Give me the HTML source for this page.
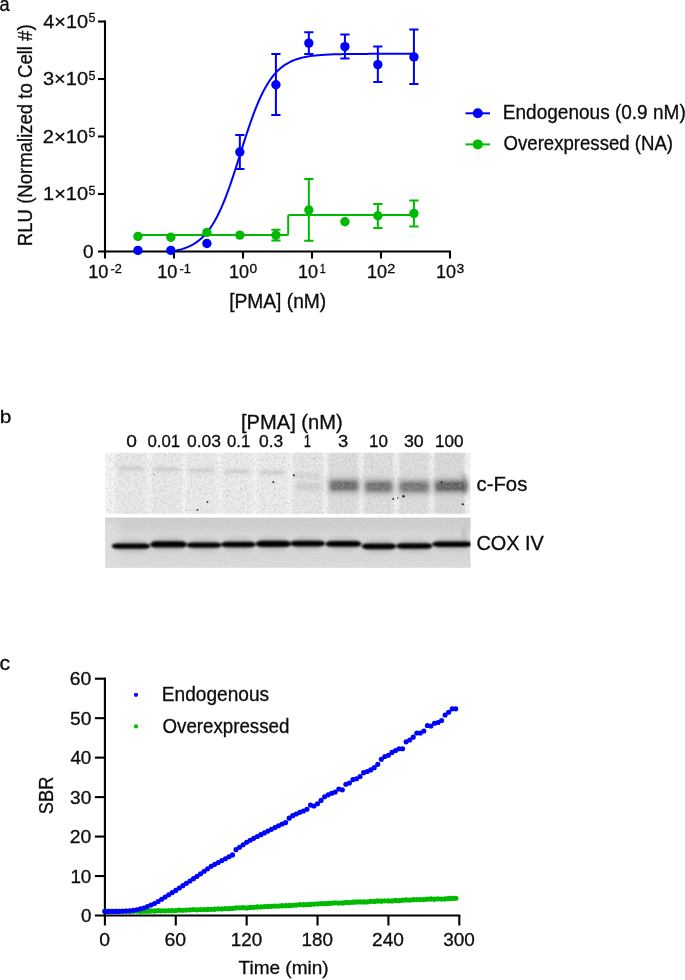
<!DOCTYPE html><html><head><meta charset="utf-8"><title>Figure</title><style>html,body{margin:0;padding:0;background:#fff}svg{display:block}text{font-family:"Liberation Sans",sans-serif;fill:#0c0c0c;stroke:#0c0c0c;stroke-width:0.3px}</style></head><body>
<svg width="685" height="980" viewBox="0 0 685 980">
<defs><filter id="b0" x="-20%" y="-100%" width="140%" height="300%"><feGaussianBlur stdDeviation="1.1 1.0"/></filter><filter id="b1" x="-20%" y="-100%" width="140%" height="300%"><feGaussianBlur stdDeviation="1.6 1.3"/></filter><filter id="b2" x="-20%" y="-100%" width="140%" height="300%"><feGaussianBlur stdDeviation="2.2 2.0"/></filter><filter id="b3" x="-20%" y="-100%" width="140%" height="300%"><feGaussianBlur stdDeviation="3 3"/></filter><filter id="grain" x="0" y="0" width="100%" height="100%"><feTurbulence type="fractalNoise" baseFrequency="0.42" numOctaves="2" seed="7" result="n"/><feColorMatrix in="n" type="matrix" values="0 0 0 0 0.45  0 0 0 0 0.45  0 0 0 0 0.45  0.8 0.8 0 0 -0.72"/></filter><filter id="grain2" x="0" y="0" width="100%" height="100%"><feTurbulence type="fractalNoise" baseFrequency="0.7" numOctaves="1" seed="3" result="n"/><feColorMatrix in="n" type="matrix" values="0 0 0 0 0  0 0 0 0 0  0 0 0 0 0  0.06 0.06 0 0 -0.05"/></filter><clipPath id="c1"><rect x="105.3" y="452.8" width="365" height="61"/></clipPath><clipPath id="c2"><rect x="105.3" y="517.8" width="365.3" height="49.8"/></clipPath></defs>
<rect width="685" height="980" fill="#fff"/>
<text x="-0.38" y="10.70" font-size="19.6" textLength="10.15" lengthAdjust="spacingAndGlyphs">a</text>
<text x="-0.36" y="422.60" font-size="19.2" textLength="11.62" lengthAdjust="spacingAndGlyphs">b</text>
<text x="-0.60" y="670.40" font-size="19.4" textLength="10.64" lengthAdjust="spacingAndGlyphs">c</text>
<text x="43.10" y="200.40" font-size="19.0" textLength="44.94" lengthAdjust="spacingAndGlyphs">1×10</text>
<text x="88.50" y="194.60" font-size="12.3" textLength="6.91" lengthAdjust="spacingAndGlyphs">5</text>
<text x="42.69" y="142.90" font-size="19.0" textLength="45.36" lengthAdjust="spacingAndGlyphs">2×10</text>
<text x="88.50" y="137.10" font-size="12.3" textLength="6.91" lengthAdjust="spacingAndGlyphs">5</text>
<text x="42.95" y="85.40" font-size="19.0" textLength="45.10" lengthAdjust="spacingAndGlyphs">3×10</text>
<text x="88.50" y="79.60" font-size="12.3" textLength="6.91" lengthAdjust="spacingAndGlyphs">5</text>
<text x="43.25" y="27.90" font-size="19.0" textLength="44.79" lengthAdjust="spacingAndGlyphs">4×10</text>
<text x="88.50" y="22.10" font-size="12.3" textLength="6.91" lengthAdjust="spacingAndGlyphs">5</text>
<text x="82.99" y="257.60" font-size="19.0" textLength="10.54" lengthAdjust="spacingAndGlyphs">0</text>
<text x="88.24" y="278.20" font-size="18.8" textLength="20.18" lengthAdjust="spacingAndGlyphs">10</text>
<text x="110.63" y="273.30" font-size="12.3" textLength="11.30" lengthAdjust="spacingAndGlyphs">-2</text>
<text x="157.24" y="278.20" font-size="18.8" textLength="20.18" lengthAdjust="spacingAndGlyphs">10</text>
<text x="179.63" y="273.30" font-size="12.3" textLength="11.30" lengthAdjust="spacingAndGlyphs">-1</text>
<text x="229.00" y="278.20" font-size="18.8" textLength="20.02" lengthAdjust="spacingAndGlyphs">10</text>
<text x="249.48" y="273.30" font-size="12.3" textLength="7.65" lengthAdjust="spacingAndGlyphs">0</text>
<text x="298.00" y="278.20" font-size="18.8" textLength="20.02" lengthAdjust="spacingAndGlyphs">10</text>
<text x="319.80" y="273.30" font-size="12.3" textLength="5.92" lengthAdjust="spacingAndGlyphs">1</text>
<text x="367.00" y="278.20" font-size="18.8" textLength="20.02" lengthAdjust="spacingAndGlyphs">10</text>
<text x="387.28" y="273.30" font-size="12.3" textLength="8.02" lengthAdjust="spacingAndGlyphs">2</text>
<text x="436.00" y="278.20" font-size="18.8" textLength="20.02" lengthAdjust="spacingAndGlyphs">10</text>
<text x="456.48" y="273.30" font-size="12.3" textLength="7.73" lengthAdjust="spacingAndGlyphs">3</text>
<text x="229.16" y="307.60" font-size="19.3" textLength="97.11" lengthAdjust="spacingAndGlyphs">[PMA] (nM)</text>
<text transform="translate(32.40 246.13) rotate(-90)" font-size="20.0" textLength="221.76" lengthAdjust="spacingAndGlyphs">RLU (Normalized to Cell #)</text>
<path d="M137.92 235.1H287.00Q288.20 235.1 288.20 233.5V216.6Q288.20 215 289.80 215H413.92" stroke="#00b900" stroke-width="2" fill="none"/>
<path d="M170.70 251.50 L172.42 251.27 L174.15 250.96 L175.87 250.63 L177.60 250.25 L179.32 249.84 L181.05 249.38 L182.77 248.86 L184.50 248.29 L186.22 247.66 L187.95 246.96 L189.67 246.19 L191.40 245.33 L193.12 244.39 L194.85 243.34 L196.57 242.19 L198.30 240.92 L200.02 239.52 L201.75 237.99 L203.47 236.31 L205.20 234.46 L206.92 232.45 L208.65 230.26 L210.37 227.88 L212.10 225.29 L213.82 222.50 L215.55 219.48 L217.27 216.25 L219.00 212.78 L220.72 209.08 L222.45 205.16 L224.17 201.00 L225.90 196.63 L227.62 192.04 L229.35 187.26 L231.07 182.31 L232.80 177.19 L234.52 171.94 L236.25 166.59 L237.97 161.17 L239.70 155.70 L241.42 150.21 L243.15 144.76 L244.87 139.35 L246.60 134.03 L248.32 128.83 L250.05 123.76 L251.77 118.86 L253.50 114.14 L255.22 109.63 L256.95 105.32 L258.67 101.24 L260.40 97.39 L262.12 93.77 L263.85 90.38 L265.57 87.22 L267.30 84.28 L269.02 81.56 L270.75 79.04 L272.47 76.72 L274.20 74.59 L275.92 72.64 L277.65 70.85 L279.37 69.22 L281.10 67.73 L282.82 66.38 L284.55 65.15 L286.27 64.03 L288.00 63.02 L289.72 62.10 L291.45 61.27 L293.17 60.53 L294.90 59.85 L296.62 59.24 L298.35 58.69 L300.07 58.20 L301.80 57.75 L303.52 57.35 L305.25 56.99 L306.97 56.66 L308.70 56.37 L310.42 56.11 L312.15 55.87 L313.87 55.66 L315.60 55.47 L317.32 55.30 L319.05 55.15 L320.77 55.01 L322.50 54.89 L324.22 54.78 L325.95 54.68 L327.67 54.59 L329.40 54.51 L331.12 54.44 L332.85 54.37 L334.57 54.31 L336.30 54.26 L338.02 54.22 L339.75 54.17 L341.47 54.14 L343.20 54.10 L344.92 54.07 L346.65 54.05 L348.37 54.02 L350.10 54.00 L351.82 53.98 L353.55 53.96 L355.27 53.95 L357.00 53.94 L358.72 53.92 L360.45 53.91 L362.17 53.90 L363.90 53.89 L365.62 53.88 L367.35 53.88 L369.07 53.87 L370.80 53.87 L372.52 53.86 L374.25 53.86 L375.97 53.85 L377.70 53.85 L379.42 53.84 L381.15 53.84 L382.87 53.84 L384.60 53.84 L386.32 53.83 L388.05 53.83 L389.77 53.83 L391.50 53.83 L393.22 53.83 L394.95 53.83 L396.67 53.82 L398.40 53.82 L400.12 53.82 L401.85 53.82 L403.57 53.82 L405.30 53.82 L407.02 53.82 L408.75 53.82 L410.47 53.82 L412.20 53.82 L413.92 53.82" stroke="#0000ff" stroke-width="2" fill="none" stroke-linejoin="round"/>
<g stroke="#000" stroke-width="2.1" fill="none" stroke-linecap="butt">
<path d="M105.0 20.45V252.55"/>
<path d="M98.0 251.5H451.05"/>
<path d="M98.0 194.00H105.0"/>
<path d="M98.0 136.50H105.0"/>
<path d="M98.0 79.00H105.0"/>
<path d="M98.0 21.50H105.0"/>
<path d="M105.00 251.5V258.5"/>
<path d="M174.00 251.5V258.5"/>
<path d="M243.00 251.5V258.5"/>
<path d="M312.00 251.5V258.5"/>
<path d="M381.00 251.5V258.5"/>
<path d="M450.00 251.5V258.5"/>
</g>
<circle cx="137.92" cy="236.4" r="4.7" fill="#00b900"/>
<circle cx="170.84" cy="237.3" r="4.7" fill="#00b900"/>
<circle cx="206.92" cy="232.4" r="4.7" fill="#00b900"/>
<circle cx="239.84" cy="235.1" r="4.7" fill="#00b900"/>
<path d="M275.92 229.80V240.40M271.32 229.80H280.52M271.32 240.40H280.52" stroke="#00b900" stroke-width="2" fill="none"/>
<circle cx="275.92" cy="235.1" r="4.7" fill="#00b900"/>
<path d="M308.84 178.90V240.80M304.24 178.90H313.44M304.24 240.80H313.44" stroke="#00b900" stroke-width="2" fill="none"/>
<circle cx="308.84" cy="210.0" r="4.7" fill="#00b900"/>
<circle cx="344.92" cy="221.8" r="4.7" fill="#00b900"/>
<path d="M377.84 204.00V227.90M373.24 204.00H382.44M373.24 227.90H382.44" stroke="#00b900" stroke-width="2" fill="none"/>
<circle cx="377.84" cy="215.7" r="4.7" fill="#00b900"/>
<path d="M413.92 200.60V226.40M409.32 200.60H418.52M409.32 226.40H418.52" stroke="#00b900" stroke-width="2" fill="none"/>
<circle cx="413.92" cy="213.5" r="4.7" fill="#00b900"/>
<circle cx="137.92" cy="250.4" r="4.7" fill="#0000ff"/>
<circle cx="170.84" cy="250.4" r="4.7" fill="#0000ff"/>
<circle cx="206.92" cy="243.5" r="4.7" fill="#0000ff"/>
<path d="M239.84 134.90V169.00M235.24 134.90H244.44M235.24 169.00H244.44" stroke="#0000ff" stroke-width="2" fill="none"/>
<circle cx="239.84" cy="152.0" r="4.7" fill="#0000ff"/>
<path d="M275.92 54.00V115.00M271.32 54.00H280.52M271.32 115.00H280.52" stroke="#0000ff" stroke-width="2" fill="none"/>
<circle cx="275.92" cy="84.8" r="4.7" fill="#0000ff"/>
<path d="M308.84 32.20V54.00M304.24 32.20H313.44M304.24 54.00H313.44" stroke="#0000ff" stroke-width="2" fill="none"/>
<circle cx="308.84" cy="43.1" r="4.7" fill="#0000ff"/>
<path d="M344.92 34.40V58.50M340.32 34.40H349.52M340.32 58.50H349.52" stroke="#0000ff" stroke-width="2" fill="none"/>
<circle cx="344.92" cy="46.6" r="4.7" fill="#0000ff"/>
<path d="M377.84 46.60V81.90M373.24 46.60H382.44M373.24 81.90H382.44" stroke="#0000ff" stroke-width="2" fill="none"/>
<circle cx="377.84" cy="64.6" r="4.7" fill="#0000ff"/>
<path d="M413.92 29.60V83.90M409.32 29.60H418.52M409.32 83.90H418.52" stroke="#0000ff" stroke-width="2" fill="none"/>
<circle cx="413.92" cy="56.9" r="4.7" fill="#0000ff"/>
<path d="M465.5 113.3H490" stroke="#0000ff" stroke-width="2"/>
<circle cx="477.8" cy="113.3" r="5.0" fill="#0000ff"/>
<text x="502.83" y="118.50" font-size="20.2" textLength="182.91" lengthAdjust="spacingAndGlyphs">Endogenous (0.9 nM)</text>
<path d="M465.5 144.4H490" stroke="#00b900" stroke-width="2"/>
<circle cx="477.8" cy="144.4" r="5.0" fill="#00b900"/>
<text x="503.52" y="149.60" font-size="20.2" textLength="169.53" lengthAdjust="spacingAndGlyphs">Overexpressed (NA)</text>
<text x="240.99" y="429.00" font-size="19.7" textLength="101.73" lengthAdjust="spacingAndGlyphs">[PMA] (nM)</text>
<text x="126.38" y="447.40" font-size="16.3" textLength="10.66" lengthAdjust="spacingAndGlyphs">0</text>
<text x="147.47" y="447.40" font-size="16.3" textLength="32.65" lengthAdjust="spacingAndGlyphs">0.01</text>
<text x="187.05" y="447.40" font-size="16.3" textLength="33.92" lengthAdjust="spacingAndGlyphs">0.03</text>
<text x="227.08" y="447.40" font-size="16.3" textLength="23.12" lengthAdjust="spacingAndGlyphs">0.1</text>
<text x="259.05" y="447.40" font-size="16.3" textLength="24.20" lengthAdjust="spacingAndGlyphs">0.3</text>
<text x="303.73" y="447.40" font-size="16.3" textLength="7.20" lengthAdjust="spacingAndGlyphs">1</text>
<text x="337.91" y="447.40" font-size="16.3" textLength="10.19" lengthAdjust="spacingAndGlyphs">3</text>
<text x="369.03" y="447.40" font-size="16.3" textLength="18.85" lengthAdjust="spacingAndGlyphs">10</text>
<text x="403.93" y="447.40" font-size="16.3" textLength="19.77" lengthAdjust="spacingAndGlyphs">30</text>
<text x="435.02" y="447.40" font-size="16.3" textLength="28.43" lengthAdjust="spacingAndGlyphs">100</text>
<text x="476.54" y="491.30" font-size="20.2" textLength="50.77" lengthAdjust="spacingAndGlyphs">c-Fos</text>
<text x="476.40" y="549.70" font-size="20.2" textLength="67.49" lengthAdjust="spacingAndGlyphs">COX IV</text>
<g clip-path="url(#c1)">
<rect x="105.3" y="452" width="365.0" height="63" fill="#f5f5f5"/>
<rect x="116.0" y="444" width="30.5" height="78" fill="#eaeaea" filter="url(#b1)"/>
<rect x="151.3" y="444" width="30.5" height="78" fill="#eaeaea" filter="url(#b1)"/>
<rect x="186.7" y="444" width="30.5" height="78" fill="#ebebeb" filter="url(#b1)"/>
<rect x="222.1" y="444" width="30.5" height="78" fill="#ececec" filter="url(#b1)"/>
<rect x="257.4" y="444" width="30.5" height="78" fill="#ececec" filter="url(#b1)"/>
<rect x="292.8" y="444" width="30.5" height="78" fill="#e6e6e6" filter="url(#b1)"/>
<rect x="328.1" y="444" width="30.5" height="78" fill="#dedede" filter="url(#b1)"/>
<rect x="363.5" y="444" width="30.5" height="78" fill="#dfdfdf" filter="url(#b1)"/>
<rect x="398.8" y="444" width="30.5" height="78" fill="#dedede" filter="url(#b1)"/>
<rect x="434.2" y="444" width="30.5" height="78" fill="#dadada" filter="url(#b1)"/>
<rect x="118.0" y="465.9" width="26" height="5" fill="#cccccc" opacity="0.5" filter="url(#b2)"/>
<rect x="119.5" y="467.3" width="23" height="2.2" fill="#b4b4b4" opacity="0.45" filter="url(#b1)"/>
<rect x="153.3" y="466.7" width="26" height="5" fill="#cccccc" opacity="0.5" filter="url(#b2)"/>
<rect x="154.8" y="468.1" width="23" height="2.2" fill="#b4b4b4" opacity="0.45" filter="url(#b1)"/>
<rect x="188.7" y="467.7" width="26" height="5" fill="#cccccc" opacity="0.5" filter="url(#b2)"/>
<rect x="190.2" y="469.1" width="23" height="2.2" fill="#b4b4b4" opacity="0.45" filter="url(#b1)"/>
<rect x="224.1" y="469.1" width="26" height="5" fill="#cccccc" opacity="0.5" filter="url(#b2)"/>
<rect x="225.6" y="470.5" width="23" height="2.2" fill="#b4b4b4" opacity="0.45" filter="url(#b1)"/>
<rect x="259.4" y="470.1" width="26" height="5" fill="#cccccc" opacity="0.5" filter="url(#b2)"/>
<rect x="260.9" y="471.5" width="23" height="2.2" fill="#b4b4b4" opacity="0.45" filter="url(#b1)"/>
<rect x="295.8" y="473.8" width="25" height="3.6" fill="#c0c0c0" opacity="0.6" filter="url(#b2)"/>
<rect x="295.8" y="483" width="26" height="7" fill="#c6c6c6" opacity="0.7" filter="url(#b2)"/>
<rect x="328.4" y="477.6" width="31.100000000000023" height="16" fill="#b8b8b8" filter="url(#b3)"/>
<rect x="330.4" y="481.0" width="27.100000000000023" height="9.2" fill="#5c5c5c" filter="url(#b2)"/>
<rect x="332.4" y="485.0" width="23.100000000000023" height="1.6" fill="#a0a0a0" opacity="0.55" filter="url(#b1)"/>
<rect x="363.9" y="478.6" width="29.700000000000045" height="16" fill="#b8b8b8" filter="url(#b3)"/>
<rect x="365.9" y="482.0" width="25.700000000000045" height="9.2" fill="#646464" filter="url(#b2)"/>
<rect x="367.9" y="486.0" width="21.700000000000045" height="1.6" fill="#a0a0a0" opacity="0.55" filter="url(#b1)"/>
<rect x="398.3" y="478.8" width="31.899999999999977" height="16" fill="#b8b8b8" filter="url(#b3)"/>
<rect x="400.3" y="482.2" width="27.899999999999977" height="9.2" fill="#686868" filter="url(#b2)"/>
<rect x="402.3" y="486.2" width="23.899999999999977" height="1.6" fill="#a0a0a0" opacity="0.55" filter="url(#b1)"/>
<rect x="433.8" y="478.2" width="34.69999999999999" height="16" fill="#b8b8b8" filter="url(#b3)"/>
<rect x="435.8" y="481.59999999999997" width="30.69999999999999" height="9.2" fill="#4c4c4c" filter="url(#b2)"/>
<rect x="437.8" y="485.59999999999997" width="26.69999999999999" height="1.6" fill="#a0a0a0" opacity="0.55" filter="url(#b1)"/>
<rect x="462" y="474" width="3.5" height="20" fill="#555" opacity="0.45" filter="url(#b2)"/>
<rect x="105.3" y="452" width="365.0" height="63" filter="url(#grain)"/>
<circle cx="349.5" cy="460.5" r="0.6" fill="#777"/>
<circle cx="393.2" cy="499" r="0.9" fill="#222"/>
<circle cx="397.7" cy="498" r="0.8" fill="#333"/>
<circle cx="403.5" cy="496.3" r="1.2" fill="#1a1a1a"/>
<circle cx="462.8" cy="504.3" r="1.1" fill="#1a1a1a"/>
<circle cx="441.7" cy="482.1" r="1.0" fill="#2a2a2a"/>
<circle cx="197.5" cy="510" r="0.9" fill="#333"/>
<circle cx="207.5" cy="502" r="0.9" fill="#333"/>
<circle cx="273.3" cy="482" r="1.0" fill="#2a2a2a"/>
<circle cx="154" cy="474.8" r="0.6" fill="#555"/>
<circle cx="241.5" cy="489" r="0.6" fill="#888"/>
<circle cx="293.9" cy="475.2" r="1.0" fill="#1a1a1a"/>
<circle cx="314.2" cy="458.6" r="0.7" fill="#777"/>
<circle cx="260" cy="494" r="0.5" fill="#999"/>
</g>
<g clip-path="url(#c2)">
<rect x="105.3" y="517" width="365.0" height="52" fill="#d8d8d8"/>
<rect x="95" y="508" width="385" height="22" fill="#cfcfcf" filter="url(#b3)"/>
<rect x="95" y="560" width="385" height="14" fill="#dcdcdc" filter="url(#b3)"/>
<rect x="60" y="520" width="60" height="50" fill="#dedede" filter="url(#b3)"/>
<rect x="113.5" y="540.3" width="35.1" height="11.6" rx="9" ry="5.8" fill="#8a8a8a" opacity="0.38" filter="url(#b2)"/>
<rect x="152.0" y="538.0" width="33.2" height="12.8" rx="9" ry="6.4" fill="#8a8a8a" opacity="0.38" filter="url(#b2)"/>
<rect x="188.2" y="539.3" width="31.7" height="11.6" rx="9" ry="5.8" fill="#8a8a8a" opacity="0.38" filter="url(#b2)"/>
<rect x="222.8" y="538.5" width="31.2" height="12.0" rx="9" ry="6.0" fill="#8a8a8a" opacity="0.38" filter="url(#b2)"/>
<rect x="257.4" y="537.6" width="31.9" height="12.6" rx="9" ry="6.3" fill="#8a8a8a" opacity="0.38" filter="url(#b2)"/>
<rect x="291.8" y="537.6" width="31.6" height="12.0" rx="9" ry="6.0" fill="#8a8a8a" opacity="0.38" filter="url(#b2)"/>
<rect x="327.2" y="537.9" width="32.5" height="12.0" rx="9" ry="6.0" fill="#8a8a8a" opacity="0.38" filter="url(#b2)"/>
<rect x="363.4" y="540.2" width="31.2" height="12.2" rx="9" ry="6.1" fill="#8a8a8a" opacity="0.38" filter="url(#b2)"/>
<rect x="398.0" y="540.1" width="32.7" height="11.8" rx="9" ry="5.9" fill="#8a8a8a" opacity="0.38" filter="url(#b2)"/>
<rect x="434.0" y="538.3" width="36.5" height="11.8" rx="9" ry="5.9" fill="#8a8a8a" opacity="0.38" filter="url(#b2)"/>
<rect x="462.5" y="528" width="3.5" height="16" fill="#b0b0b0" opacity="0.7" filter="url(#b2)"/>
<rect x="111.7" y="543.5" width="38.7" height="5.2" rx="6" ry="2.6" fill="#060606" filter="url(#b0)"/>
<rect x="150.2" y="541.2" width="36.8" height="6.4" rx="6" ry="3.2" fill="#060606" filter="url(#b0)"/>
<rect x="186.4" y="542.5" width="35.3" height="5.2" rx="6" ry="2.6" fill="#060606" filter="url(#b0)"/>
<rect x="221.0" y="541.7" width="34.8" height="5.6" rx="6" ry="2.8" fill="#060606" filter="url(#b0)"/>
<rect x="255.6" y="540.8" width="35.5" height="6.2" rx="6" ry="3.1" fill="#060606" filter="url(#b0)"/>
<rect x="290.0" y="540.8" width="35.2" height="5.6" rx="6" ry="2.8" fill="#060606" filter="url(#b0)"/>
<rect x="325.4" y="541.1" width="36.1" height="5.6" rx="6" ry="2.8" fill="#060606" filter="url(#b0)"/>
<rect x="361.6" y="543.4" width="34.8" height="5.8" rx="6" ry="2.9" fill="#060606" filter="url(#b0)"/>
<rect x="396.2" y="543.3" width="36.3" height="5.4" rx="6" ry="2.7" fill="#060606" filter="url(#b0)"/>
<rect x="432.2" y="541.5" width="40.1" height="5.4" rx="6" ry="2.7" fill="#060606" filter="url(#b0)"/>
<rect x="105.3" y="517" width="365.0" height="52" filter="url(#grain2)"/>
</g>
<g stroke="#000" stroke-width="2.1" fill="none">
<path d="M104.9 677.65V916.55"/>
<path d="M94.9 915.5H460.34"/>
<path d="M94.9 876.03H104.9"/>
<path d="M94.9 836.57H104.9"/>
<path d="M94.9 797.10H104.9"/>
<path d="M94.9 757.63H104.9"/>
<path d="M94.9 718.16H104.9"/>
<path d="M94.9 678.70H104.9"/>
<path d="M104.90 915.5V925.5"/>
<path d="M175.78 915.5V925.5"/>
<path d="M246.66 915.5V925.5"/>
<path d="M317.53 915.5V925.5"/>
<path d="M388.41 915.5V925.5"/>
<path d="M459.29 915.5V925.5"/>
</g>
<text x="80.90" y="922.00" font-size="19.0" textLength="10.43" lengthAdjust="spacingAndGlyphs">0</text>
<text x="70.39" y="882.53" font-size="19.0" textLength="20.96" lengthAdjust="spacingAndGlyphs">10</text>
<text x="69.83" y="843.07" font-size="19.0" textLength="21.54" lengthAdjust="spacingAndGlyphs">20</text>
<text x="70.08" y="803.60" font-size="19.0" textLength="21.28" lengthAdjust="spacingAndGlyphs">30</text>
<text x="70.38" y="764.13" font-size="19.0" textLength="20.98" lengthAdjust="spacingAndGlyphs">40</text>
<text x="70.03" y="724.66" font-size="19.0" textLength="21.33" lengthAdjust="spacingAndGlyphs">50</text>
<text x="69.83" y="685.20" font-size="19.0" textLength="21.54" lengthAdjust="spacingAndGlyphs">60</text>
<text x="99.22" y="945.80" font-size="19.0" textLength="10.78" lengthAdjust="spacingAndGlyphs">0</text>
<text x="164.55" y="945.80" font-size="19.0" textLength="21.65" lengthAdjust="spacingAndGlyphs">60</text>
<text x="230.74" y="945.80" font-size="19.0" textLength="31.44" lengthAdjust="spacingAndGlyphs">120</text>
<text x="301.62" y="945.80" font-size="19.0" textLength="31.44" lengthAdjust="spacingAndGlyphs">180</text>
<text x="372.06" y="945.80" font-size="19.0" textLength="31.89" lengthAdjust="spacingAndGlyphs">240</text>
<text x="443.18" y="945.80" font-size="19.0" textLength="31.64" lengthAdjust="spacingAndGlyphs">300</text>
<text x="238.57" y="973.80" font-size="19.2" textLength="90.07" lengthAdjust="spacingAndGlyphs">Time (min)</text>
<text transform="translate(53.40 814.22) rotate(-90)" font-size="19.6" textLength="37.57" lengthAdjust="spacingAndGlyphs">SBR</text>
<circle cx="136" cy="694.8" r="2.1" fill="#0000ff"/><circle cx="136" cy="726.4" r="2.1" fill="#00b900"/>
<text x="161.83" y="701.30" font-size="19.6" textLength="107.22" lengthAdjust="spacingAndGlyphs">Endogenous</text>
<text x="162.51" y="732.80" font-size="19.6" textLength="126.87" lengthAdjust="spacingAndGlyphs">Overexpressed</text>
<g fill="#00b900"><circle cx="104.90" cy="911.30" r="2.65"/><circle cx="108.44" cy="911.44" r="2.65"/><circle cx="111.99" cy="911.33" r="2.65"/><circle cx="115.53" cy="911.43" r="2.65"/><circle cx="119.08" cy="911.42" r="2.65"/><circle cx="122.62" cy="911.12" r="2.65"/><circle cx="126.16" cy="911.07" r="2.65"/><circle cx="129.71" cy="911.47" r="2.65"/><circle cx="133.25" cy="911.16" r="2.65"/><circle cx="136.80" cy="911.12" r="2.65"/><circle cx="140.34" cy="911.49" r="2.65"/><circle cx="143.88" cy="911.14" r="2.65"/><circle cx="147.43" cy="911.25" r="2.65"/><circle cx="150.97" cy="910.99" r="2.65"/><circle cx="154.51" cy="910.99" r="2.65"/><circle cx="158.06" cy="910.67" r="2.65"/><circle cx="161.60" cy="910.83" r="2.65"/><circle cx="165.15" cy="910.87" r="2.65"/><circle cx="168.69" cy="910.62" r="2.65"/><circle cx="172.23" cy="910.65" r="2.65"/><circle cx="175.78" cy="910.53" r="2.65"/><circle cx="179.32" cy="910.10" r="2.65"/><circle cx="182.87" cy="910.32" r="2.65"/><circle cx="186.41" cy="910.11" r="2.65"/><circle cx="189.95" cy="909.84" r="2.65"/><circle cx="193.50" cy="909.58" r="2.65"/><circle cx="197.04" cy="909.87" r="2.65"/><circle cx="200.59" cy="909.55" r="2.65"/><circle cx="204.13" cy="909.55" r="2.65"/><circle cx="207.67" cy="909.50" r="2.65"/><circle cx="211.22" cy="909.29" r="2.65"/><circle cx="214.76" cy="909.25" r="2.65"/><circle cx="218.30" cy="908.83" r="2.65"/><circle cx="221.85" cy="908.89" r="2.65"/><circle cx="225.39" cy="908.56" r="2.65"/><circle cx="228.94" cy="908.65" r="2.65"/><circle cx="232.48" cy="908.47" r="2.65"/><circle cx="236.02" cy="907.93" r="2.65"/><circle cx="239.57" cy="907.80" r="2.65"/><circle cx="243.11" cy="907.69" r="2.65"/><circle cx="246.66" cy="907.92" r="2.65"/><circle cx="250.20" cy="907.45" r="2.65"/><circle cx="253.74" cy="907.34" r="2.65"/><circle cx="257.29" cy="906.98" r="2.65"/><circle cx="260.83" cy="906.88" r="2.65"/><circle cx="264.38" cy="906.61" r="2.65"/><circle cx="267.92" cy="906.39" r="2.65"/><circle cx="271.46" cy="906.31" r="2.65"/><circle cx="275.01" cy="906.10" r="2.65"/><circle cx="278.55" cy="906.06" r="2.65"/><circle cx="282.10" cy="905.76" r="2.65"/><circle cx="285.64" cy="905.70" r="2.65"/><circle cx="289.18" cy="905.49" r="2.65"/><circle cx="292.73" cy="905.37" r="2.65"/><circle cx="296.27" cy="905.03" r="2.65"/><circle cx="299.81" cy="904.60" r="2.65"/><circle cx="303.36" cy="904.76" r="2.65"/><circle cx="306.90" cy="904.63" r="2.65"/><circle cx="310.45" cy="904.42" r="2.65"/><circle cx="313.99" cy="904.07" r="2.65"/><circle cx="317.53" cy="903.96" r="2.65"/><circle cx="321.08" cy="903.56" r="2.65"/><circle cx="324.62" cy="903.72" r="2.65"/><circle cx="328.17" cy="903.43" r="2.65"/><circle cx="331.71" cy="903.13" r="2.65"/><circle cx="335.25" cy="902.87" r="2.65"/><circle cx="338.80" cy="903.11" r="2.65"/><circle cx="342.34" cy="903.02" r="2.65"/><circle cx="345.89" cy="902.42" r="2.65"/><circle cx="349.43" cy="902.62" r="2.65"/><circle cx="352.97" cy="902.27" r="2.65"/><circle cx="356.52" cy="901.99" r="2.65"/><circle cx="360.06" cy="901.91" r="2.65"/><circle cx="363.60" cy="901.99" r="2.65"/><circle cx="367.15" cy="901.89" r="2.65"/><circle cx="370.69" cy="901.32" r="2.65"/><circle cx="374.24" cy="901.45" r="2.65"/><circle cx="377.78" cy="901.01" r="2.65"/><circle cx="381.32" cy="901.20" r="2.65"/><circle cx="384.87" cy="900.85" r="2.65"/><circle cx="388.41" cy="900.97" r="2.65"/><circle cx="391.96" cy="900.89" r="2.65"/><circle cx="395.50" cy="900.52" r="2.65"/><circle cx="399.04" cy="900.64" r="2.65"/><circle cx="402.59" cy="900.16" r="2.65"/><circle cx="406.13" cy="899.91" r="2.65"/><circle cx="409.68" cy="900.04" r="2.65"/><circle cx="413.22" cy="899.63" r="2.65"/><circle cx="416.76" cy="899.58" r="2.65"/><circle cx="420.31" cy="899.55" r="2.65"/><circle cx="423.85" cy="899.53" r="2.65"/><circle cx="427.39" cy="899.17" r="2.65"/><circle cx="430.94" cy="898.98" r="2.65"/><circle cx="434.48" cy="899.26" r="2.65"/><circle cx="438.03" cy="898.85" r="2.65"/><circle cx="441.57" cy="899.05" r="2.65"/><circle cx="445.11" cy="898.88" r="2.65"/><circle cx="448.66" cy="898.49" r="2.65"/><circle cx="452.20" cy="898.40" r="2.65"/><circle cx="455.75" cy="898.30" r="2.65"/></g>
<g fill="#0000ff"><circle cx="104.90" cy="911.40" r="2.55"/><circle cx="108.44" cy="911.40" r="2.55"/><circle cx="111.99" cy="911.40" r="2.55"/><circle cx="115.53" cy="911.40" r="2.55"/><circle cx="119.08" cy="911.33" r="2.55"/><circle cx="122.62" cy="911.22" r="2.55"/><circle cx="126.16" cy="911.11" r="2.55"/><circle cx="129.71" cy="910.79" r="2.55"/><circle cx="133.25" cy="910.35" r="2.55"/><circle cx="136.80" cy="909.75" r="2.55"/><circle cx="140.34" cy="908.85" r="2.55"/><circle cx="143.88" cy="907.95" r="2.55"/><circle cx="147.43" cy="906.53" r="2.55"/><circle cx="150.97" cy="904.99" r="2.55"/><circle cx="154.51" cy="903.46" r="2.55"/><circle cx="158.06" cy="901.46" r="2.55"/><circle cx="161.60" cy="899.22" r="2.55"/><circle cx="165.15" cy="896.99" r="2.55"/><circle cx="168.69" cy="894.79" r="2.55"/><circle cx="172.23" cy="892.60" r="2.55"/><circle cx="175.78" cy="890.40" r="2.55"/><circle cx="179.32" cy="888.03" r="2.55"/><circle cx="182.87" cy="885.66" r="2.55"/><circle cx="186.41" cy="883.33" r="2.55"/><circle cx="189.95" cy="881.00" r="2.55"/><circle cx="193.50" cy="878.67" r="2.55"/><circle cx="197.04" cy="876.34" r="2.55"/><circle cx="200.59" cy="873.83" r="2.55"/><circle cx="204.13" cy="871.31" r="2.55"/><circle cx="207.67" cy="868.78" r="2.55"/><circle cx="211.22" cy="866.25" r="2.55"/><circle cx="214.76" cy="864.36" r="2.55"/><circle cx="218.30" cy="862.47" r="2.55"/><circle cx="221.85" cy="860.58" r="2.55"/><circle cx="225.39" cy="858.69" r="2.55"/><circle cx="228.94" cy="856.80" r="2.55"/><circle cx="232.48" cy="854.91" r="2.55"/><circle cx="236.02" cy="849.67" r="2.55"/><circle cx="239.57" cy="847.18" r="2.55"/><circle cx="243.11" cy="844.68" r="2.55"/><circle cx="246.66" cy="842.19" r="2.55"/><circle cx="250.20" cy="840.23" r="2.55"/><circle cx="253.74" cy="838.38" r="2.55"/><circle cx="257.29" cy="836.52" r="2.55"/><circle cx="260.83" cy="834.67" r="2.55"/><circle cx="264.38" cy="832.90" r="2.55"/><circle cx="267.92" cy="831.12" r="2.55"/><circle cx="271.46" cy="829.34" r="2.55"/><circle cx="275.01" cy="827.57" r="2.55"/><circle cx="278.55" cy="825.73" r="2.55"/><circle cx="282.10" cy="823.98" r="2.55"/><circle cx="285.64" cy="822.59" r="2.55"/><circle cx="289.18" cy="818.16" r="2.55"/><circle cx="292.73" cy="815.66" r="2.55"/><circle cx="296.27" cy="813.99" r="2.55"/><circle cx="299.81" cy="812.33" r="2.55"/><circle cx="303.36" cy="810.94" r="2.55"/><circle cx="306.90" cy="809.28" r="2.55"/><circle cx="310.45" cy="805.12" r="2.55"/><circle cx="313.99" cy="805.95" r="2.55"/><circle cx="317.53" cy="803.73" r="2.55"/><circle cx="321.08" cy="800.40" r="2.55"/><circle cx="324.62" cy="796.80" r="2.55"/><circle cx="328.17" cy="794.85" r="2.55"/><circle cx="331.71" cy="793.19" r="2.55"/><circle cx="335.25" cy="792.08" r="2.55"/><circle cx="338.80" cy="789.03" r="2.55"/><circle cx="342.34" cy="789.86" r="2.55"/><circle cx="345.89" cy="784.31" r="2.55"/><circle cx="349.43" cy="782.93" r="2.55"/><circle cx="352.97" cy="779.60" r="2.55"/><circle cx="356.52" cy="778.77" r="2.55"/><circle cx="360.06" cy="776.55" r="2.55"/><circle cx="363.60" cy="772.66" r="2.55"/><circle cx="367.15" cy="771.55" r="2.55"/><circle cx="370.69" cy="769.89" r="2.55"/><circle cx="374.24" cy="767.67" r="2.55"/><circle cx="377.78" cy="764.34" r="2.55"/><circle cx="381.32" cy="759.35" r="2.55"/><circle cx="384.87" cy="756.57" r="2.55"/><circle cx="388.41" cy="755.19" r="2.55"/><circle cx="391.96" cy="752.41" r="2.55"/><circle cx="395.50" cy="750.47" r="2.55"/><circle cx="399.04" cy="748.81" r="2.55"/><circle cx="402.59" cy="748.81" r="2.55"/><circle cx="406.13" cy="741.87" r="2.55"/><circle cx="409.68" cy="739.93" r="2.55"/><circle cx="413.22" cy="737.16" r="2.55"/><circle cx="416.76" cy="733.00" r="2.55"/><circle cx="420.31" cy="733.00" r="2.55"/><circle cx="423.85" cy="731.05" r="2.55"/><circle cx="427.39" cy="725.51" r="2.55"/><circle cx="430.94" cy="726.06" r="2.55"/><circle cx="434.48" cy="723.29" r="2.55"/><circle cx="438.03" cy="722.45" r="2.55"/><circle cx="441.57" cy="720.51" r="2.55"/><circle cx="445.11" cy="714.97" r="2.55"/><circle cx="448.66" cy="712.19" r="2.55"/><circle cx="452.20" cy="708.86" r="2.55"/><circle cx="455.75" cy="708.86" r="2.55"/></g>
</svg></body></html>
